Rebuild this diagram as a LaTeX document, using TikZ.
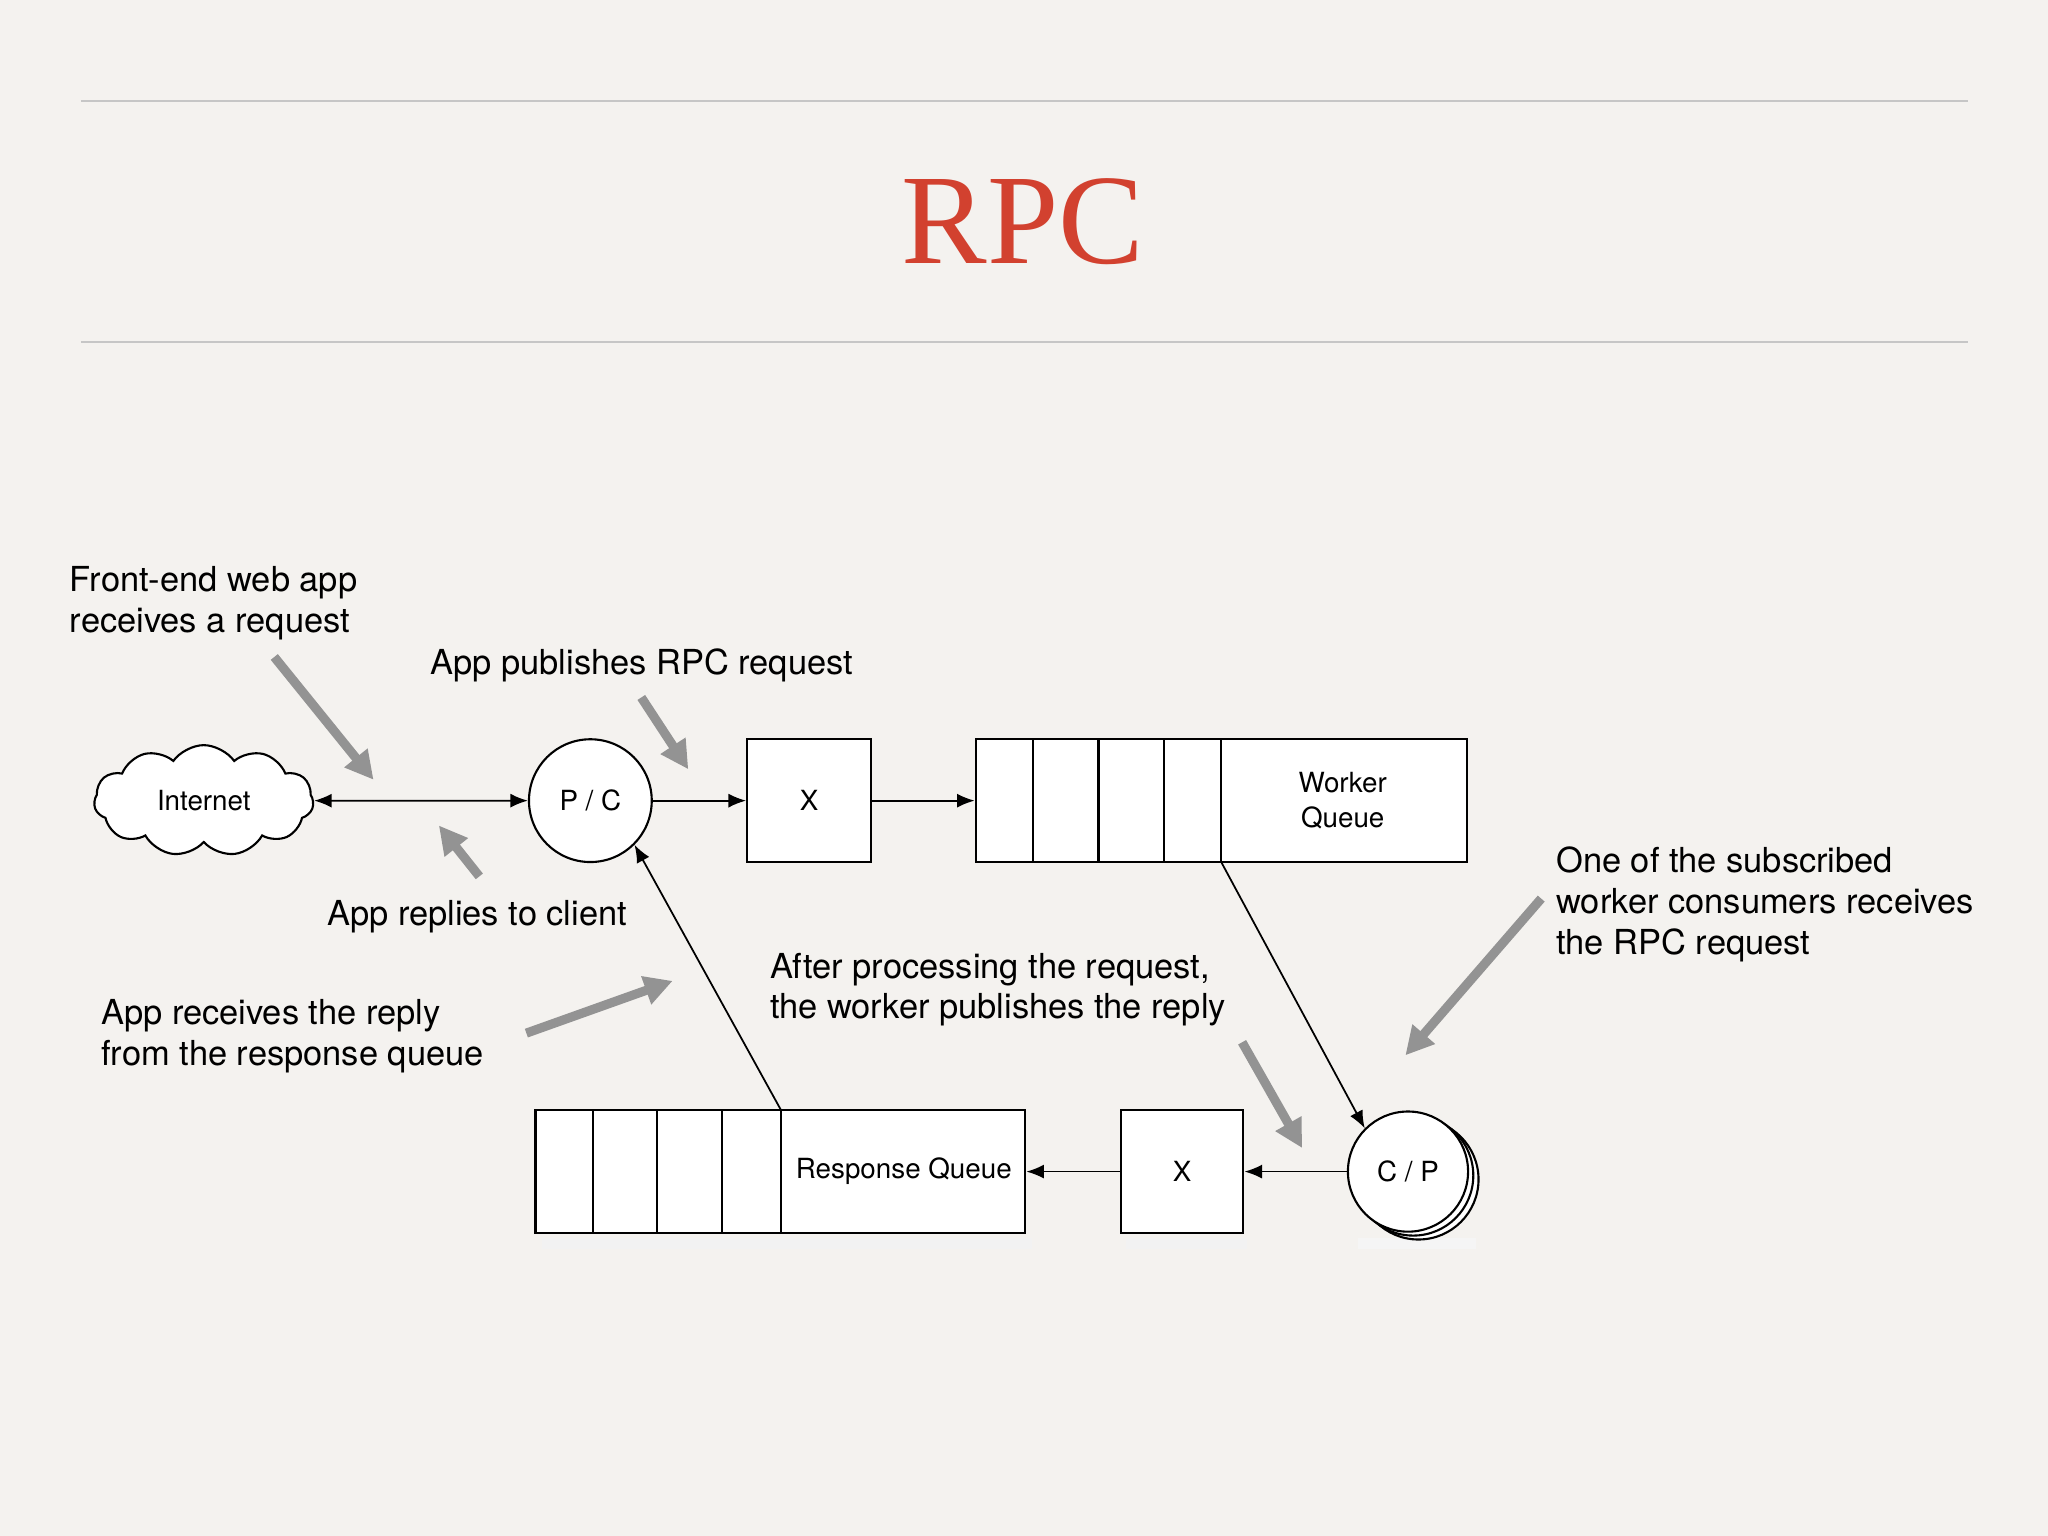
\documentclass[tikz,border=0pt]{standalone}
\usepackage{fontspec}
\setmainfont{TeX Gyre Heros}
\newfontfamily\titlefont{Liberation Serif}
\usetikzlibrary{shapes.symbols,arrows.meta}
\definecolor{bg}{HTML}{F4F2EF}
\definecolor{titlered}{HTML}{D2412F}
\begin{document}
\begin{tikzpicture}[x=0.013061cm,y=-0.013061cm,
  box/.style={draw,fill=white,line width=0.6pt,inner sep=0},
  con/.style={-{Latex[length=5pt,width=4pt]},line width=0.5pt},
  hint/.style={-{Triangle[length=8pt,width=8pt]},line width=2.6pt,draw=gray!85},
  note/.style={font=\fontsize{9.8}{11.6}\selectfont,align=left,anchor=north west,inner sep=0},
  lbl/.style={font=\fontsize{7.9}{9.7}\selectfont}]
\fill[bg] (0,0) rectangle (1568,1176);
\useasboundingbox (0,0) rectangle (1568,1176);
\draw[gray!45,line width=0.6pt] (62,77) -- (1507,77) (62,262) -- (1507,262);
\node[text=titlered,font=\titlefont\fontsize{36.5}{36.5}\selectfont] (title) at (783,170) {RPC};
% shadows
\fill[black!5] (415,948) rectangle (790,956);
\fill[black!5] (862,948) rectangle (955,956);
\fill[black!4] (1040,948) rectangle (1130,956);
% nodes
\node[cloud,cloud puffs=11,cloud puff arc=110,aspect=2.1,draw,fill=white,line width=0.6pt,minimum height=85*0.013061cm,minimum width=168*0.013061cm,inner sep=0,lbl] (inet) at (156,613) {Internet};
\node[box,circle,minimum size=94*0.013061cm,lbl] (pc) at (452,613) {P / C};
\node[box,minimum width=95*0.013061cm,minimum height=94*0.013061cm,lbl] (x1) at (619.5,613) {X};
\node[box,minimum width=376*0.013061cm,minimum height=94*0.013061cm] (wq) at (935,613) {};
\draw[line width=0.6pt] (791,566) -- (791,660) (841,566) -- (841,660) (891,566) -- (891,660) (935,566) -- (935,660);
\node[lbl,align=center] (wqt) at (1028,613) {Worker\\Queue};
\coordinate (wqo) at (935,660);
\draw[box,circle] (1086,903) circle (46);
\draw[box,circle] (1082,900) circle (46);
\node[box,circle,minimum size=92*0.013061cm,lbl] (cp) at (1078,897) {C / P};
\node[box,minimum width=94*0.013061cm,minimum height=94*0.013061cm,lbl] (x2) at (905,897) {X};
\node[box,minimum width=375*0.013061cm,minimum height=94*0.013061cm] (rq) at (597.5,897) {};
\draw[line width=0.6pt] (454,850) -- (454,944) (503,850) -- (503,944) (553,850) -- (553,944) (598,850) -- (598,944);
\node[lbl] (rqt) at (692,897) {Response Queue};
\coordinate (rqo) at (598,850);
% connectors
\draw[con,{Latex[length=5pt,width=4pt]}-{Latex[length=5pt,width=4pt]}] (inet.east) -- (pc.west);
\draw[con] (pc) -- (x1);
\draw[con] (x1) -- (wq.west);
\draw[con] (wqo) -- (cp.north west);
\draw[con] (cp) -- (x2);
\draw[con] (x2) -- (rq.east);
\draw[con] (rqo) -- (pc.south east);
% hint arrows
\coordinate (h1a) at (210,503); \coordinate (h1b) at (286,597);
\coordinate (h2a) at (491,534); \coordinate (h2b) at (527,589);
\coordinate (h3a) at (367,671); \coordinate (h3b) at (336,632);
\coordinate (h4a) at (403,791); \coordinate (h4b) at (515,751);
\coordinate (h5a) at (951,798); \coordinate (h5b) at (997,879);
\coordinate (h6a) at (1180,688); \coordinate (h6b) at (1076,808);
\draw[hint] (h1a) -- (h1b);
\draw[hint] (h2a) -- (h2b);
\draw[hint] (h3a) -- (h3b);
\draw[hint] (h4a) -- (h4b);
\draw[hint] (h5a) -- (h5b);
\draw[hint] (h6a) -- (h6b);
% notes
\node[note] (n1) at (53,433) {Front-end web app\\receives a request};
\node[note] (n2) at (329,496) {App publishes RPC request};
\node[note] (n3) at (250,689) {App replies to client};
\node[note] (n4) at (77,765) {App receives the reply\\from the response queue};
\node[note] (n5) at (589,729) {After processing the request,\\the worker publishes the reply};
\node[note] (n6) at (1191,648) {One of the subscribed\\worker consumers receives\\the RPC request};
\end{tikzpicture}
\end{document}
